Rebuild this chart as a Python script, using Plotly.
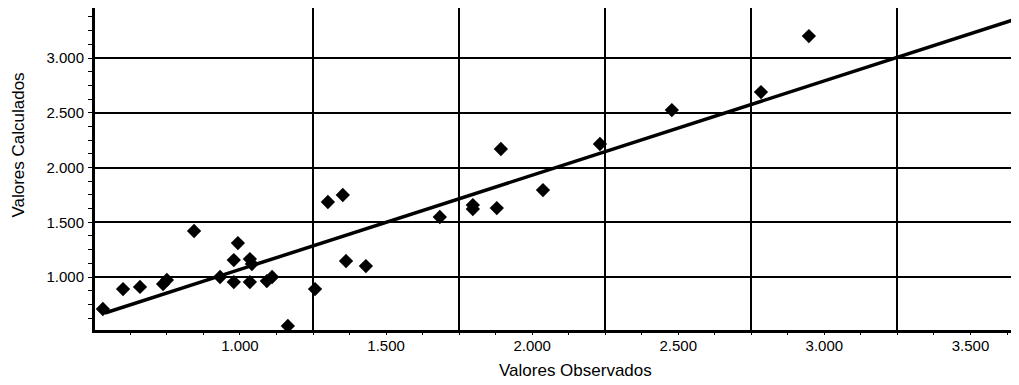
import plotly.graph_objects as go

obs_x = [531, 600, 658, 737, 750, 843, 932, 993, 979, 1034, 1041, 979, 1034, 1092, 1110,
         1164, 1257, 1301, 1352, 1363, 1431, 1684, 1797, 1797, 1879, 1893, 2037, 2232,
         2478, 2783, 2947]
calc_y = [708, 890, 909, 936, 973, 1420, 1000, 1310, 1155, 1164, 1119, 954, 954, 963, 1000,
          553, 890, 1685, 1749, 1146, 1100, 1548, 1657, 1621, 1630, 2169, 1794, 2215,
          2525, 2689, 3201]

# Fitted line end points
fit_x = [538, 3666]
fit_y = [671, 3365]

x_tick_vals = [1000, 1500, 2000, 2500, 3000, 3500]
x_tick_text = ["1.000", "1.500", "2.000", "2.500", "3.000", "3.500"]
x_grid_vals = [1250, 1750, 2250, 2750, 3250]
y_tick_vals = [1000, 1500, 2000, 2500, 3000]
y_tick_text = ["1.000", "1.500", "2.000", "2.500", "3.000"]

x_range = [504, 3666]
y_range = [516, 3457]

font_family = "Liberation Sans, Arial, sans-serif"

fig = go.Figure()
fig.add_trace(go.Scatter(x=fit_x, y=fit_y, mode="lines",
                         line=dict(color="black", width=3.5), showlegend=False))
fig.add_trace(go.Scatter(x=obs_x, y=calc_y, mode="markers",
                         marker=dict(symbol="diamond", size=11, color="black"),
                         showlegend=False))
# invisible trace to anchor the overlay axis carrying the fine tick marks
fig.add_trace(go.Scatter(x=[x_range[0]], y=[y_range[0]], xaxis="x2", mode="markers",
                         marker=dict(opacity=0), showlegend=False, hoverinfo="skip"))

fig.update_layout(
    width=1011, height=377,
    margin=dict(l=87, r=0, t=0, b=55, autoexpand=False),
    paper_bgcolor="white", plot_bgcolor="white",
    font=dict(family=font_family, size=15, color="black"),
    xaxis=dict(range=x_range, tickvals=x_tick_vals, ticktext=x_tick_text,
               automargin=False,
               showgrid=False, zeroline=False,
               showline=True, linecolor="black", linewidth=3,
               ticks="", tickfont=dict(size=15),
               minor=dict(tickvals=x_grid_vals, showgrid=True, gridcolor="black",
                          gridwidth=2, ticks="")),
    xaxis2=dict(range=x_range, overlaying="x", side="bottom", anchor="y",
                automargin=False,
                dtick=125, tick0=500, showticklabels=False, showgrid=False,
                zeroline=False, ticks="outside", ticklen=4, tickwidth=1,
                tickcolor="black", showline=False),
    yaxis=dict(range=y_range, tickvals=y_tick_vals, ticktext=y_tick_text,
               automargin=False,
               showgrid=True, gridcolor="black", gridwidth=2, zeroline=False,
               showline=True, linecolor="black", linewidth=3,
               ticks="", tickfont=dict(size=15), ticklabelstandoff=5,
               minor=dict(dtick=125, tick0=500, ticks="outside", ticklen=4,
                          tickcolor="black", showgrid=False)),
    annotations=[
        dict(text="Valores Calculados", textangle=-90, xref="paper", yref="paper",
             x=-0.0825, y=0.575, xanchor="center", yanchor="middle", showarrow=False,
             font=dict(size=17)),
        dict(text="Valores Observados", xref="paper", yref="paper",
             x=0.520, y=-0.127, xanchor="center", yanchor="middle", showarrow=False,
             font=dict(size=17)),
    ],
)

fig.write_html("out.html")
